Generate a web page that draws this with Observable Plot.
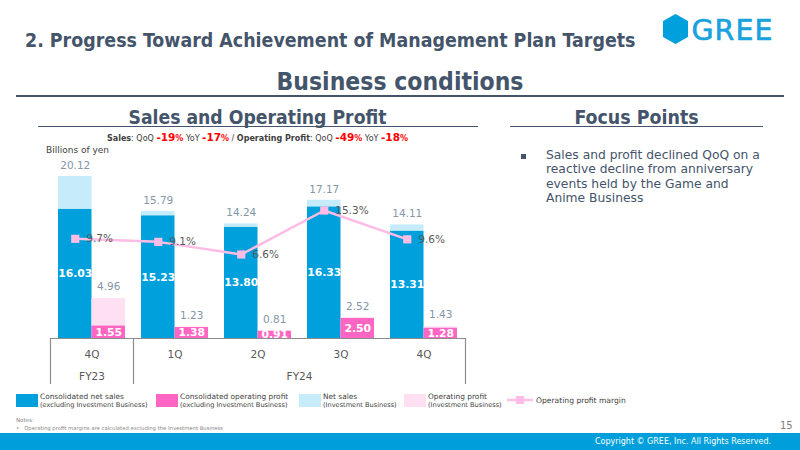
<!DOCTYPE html>
<html><head><meta charset="utf-8">
<script src="https://cdn.jsdelivr.net/npm/d3@7"></script>
<script src="https://cdn.jsdelivr.net/npm/@observablehq/plot@0.6"></script>
<style>
html,body{margin:0;padding:0;}
body{width:800px;height:450px;position:relative;overflow:hidden;background:#fff;font-family:"DejaVu Sans",Verdana,sans-serif;color:#44546A;}
.abs{position:absolute;white-space:nowrap;}
.cond{font-family:"DejaVu Sans Condensed","DejaVu Sans",sans-serif;font-weight:bold;}
.r{color:#FF0000;font-weight:bold;font-size:10.5px;}
.r small{font-size:8px;}
.sw{position:absolute;width:22px;height:13px;}
.lg{position:absolute;color:#404040;line-height:8px;}
.lg .a{font-size:7.4px;}
.lg .b{font-size:6.6px;}
</style></head><body>

<div class="abs cond" style="left:25px;top:29px;font-size:19.4px;">2. Progress Toward Achievement of Management Plan Targets</div>
<svg class="abs" style="left:655px;top:6px" width="140" height="46">
  <polygon points="20.5,9 32,15.5 32,30.5 20.5,37 9,30.5 9,15.5" fill="#00A0DC" stroke="#00A0DC" stroke-width="2" stroke-linejoin="round"/>
  <text x="36.5" y="34" font-family="DejaVu Sans" font-size="28.5" letter-spacing="1" fill="#19A2DD" stroke="#19A2DD" stroke-width="0.6">GREE</text>
</svg>
<div class="abs cond" style="left:0;width:800px;text-align:center;top:66.5px;font-size:24.5px;">Business conditions</div>
<div class="abs" style="left:16px;top:94.5px;width:768px;height:2px;background:#44546A"></div>

<div class="abs cond" style="left:0;width:515px;text-align:center;top:106px;font-size:19.2px;">Sales and Operating Profit</div>
<div class="abs" style="left:38px;top:125.5px;width:440px;height:1.5px;background:#44546A"></div>
<div class="abs" style="left:0;width:515px;text-align:center;top:131px;font-size:8px;color:#404040;"><b>Sales</b>: QoQ <span class="r">-19<small>%</small></span> YoY <span class="r">-17<small>%</small></span> / <b>Operating Profit</b>: QoQ <span class="r">-49<small>%</small></span> YoY <span class="r">-18<small>%</small></span></div>
<div class="abs" style="left:46px;top:145px;font-size:9px;color:#404040;">Billions of yen</div>

<div class="abs cond" style="left:510px;width:253px;text-align:center;top:106px;font-size:19.4px;">Focus Points</div>
<div class="abs" style="left:510px;top:125.5px;width:253px;height:1.5px;background:#44546A"></div>
<div class="abs" style="left:521px;top:154px;width:5px;height:5px;background:#44546A"></div>
<div class="abs" style="left:546px;top:147.5px;font-size:12.3px;line-height:14.6px;white-space:normal;width:245px;">Sales and profit declined QoQ on a<br>reactive decline from anniversary<br>events held by the Game and<br>Anime Business</div>

<div id="chart" class="abs" style="left:0;top:150px;"></div>

<div id="legend"></div>

<div class="abs" style="left:16px;top:417px;font-size:5.5px;color:#8a8a8a;">Notes:</div>
<div class="abs" style="left:16px;top:424.5px;font-size:5.3px;color:#8a8a8a;">&#8226;&nbsp;&nbsp;&nbsp;Operating profit margins are calculated excluding the Investment Business</div>
<div class="abs" style="left:780px;top:419.5px;font-size:10px;color:#7f7f7f;">15</div>
<div class="abs" style="left:0;top:433px;width:800px;height:17px;background:#009FDB"></div>
<div class="abs" style="right:29px;top:437px;font-size:8px;color:#fff;">Copyright © GREE, Inc. All Rights Reserved.</div>

<script>
// ---- data ----
const periods = ["FY23 4Q", "FY24 1Q", "FY24 2Q", "FY24 3Q", "FY24 4Q"];
const quarterLabels = ["4Q", "1Q", "2Q", "3Q", "4Q"];
const fiscalYears = ["FY23", "FY24"];
const salesExInvestment = [16.03, 15.23, 13.80, 16.33, 13.31];
const salesTotal = [20.12, 15.79, 14.24, 17.17, 14.11];
const profitExInvestment = [1.55, 1.38, 0.91, 2.50, 1.28];
const profitTotal = [4.96, 1.23, 0.81, 2.52, 1.43];
const operatingMarginPct = [9.7, 9.1, 6.6, 15.3, 9.6];
const seriesNames = [
  ["Consolidated net sales", "(excluding Investment Business)"],
  ["Consolidated operating profit", "(excluding Investment Business)"],
  ["Net sales", "(Investment Business)"],
  ["Operating profit", "(Investment Business)"],
  ["Operating profit margin", ""]
];

// ---- styles ----
const C = {sales: "#00A0DC", salesInv: "#C6ECFB", profit: "#FF66C4", profitInv: "#FFE0F2", margin: "#FFBCE4", grid: "#8c8c8c"};

const rows = periods.map((p, i) => ({
  period: p, q: quarterLabels[i],
  sEx: salesExInvestment[i], sTot: salesTotal[i],
  pEx: profitExInvestment[i], pTot: profitTotal[i],
  m: operatingMarginPct[i]
}));

// secondary (margin %) axis mapped onto the primary y scale
const marginToY = m => 6.29 + 0.628 * m;

const W = 500, H = 240, ML = 50, MR = 35;
const padIn = 0.193, padOut = padIn / 2;
const step = (W - ML - MR) / periods.length;
const bw = step * (1 - padIn);
const half = bw / 2, off = bw / 4;
const yMin = -5.714, yMax = 23.354;

const chart = Plot.plot({
  width: W, height: H,
  marginLeft: ML, marginRight: MR, marginTop: 0, marginBottom: 6,
  style: {fontFamily: "DejaVu Sans, sans-serif", background: "transparent", overflow: "visible"},
  x: {domain: periods, paddingInner: padIn, paddingOuter: padOut, axis: null},
  y: {domain: [yMin, yMax], axis: null},
  marks: [
    Plot.barY(rows, {x: "period", y1: "sEx", y2: "sTot", fill: C.salesInv, insetRight: half}),
    Plot.barY(rows, {x: "period", y1: 0, y2: "sEx", fill: C.sales, insetRight: half}),
    Plot.barY(rows, {x: "period", y1: "pEx", y2: d => Math.max(d.pEx, d.pTot), fill: C.profitInv, insetLeft: half}),
    Plot.barY(rows, {x: "period", y1: 0, y2: "pEx", fill: C.profit, insetLeft: half}),
    Plot.ruleY([0], {stroke: C.grid, strokeWidth: 1.2}),
    Plot.ruleX([periods[0], periods[1]], {y1: 0, y2: yMin, dx: -step / 2, stroke: C.grid, strokeWidth: 1.2}),
    Plot.ruleX([periods[periods.length - 1]], {y1: 0, y2: yMin, dx: step / 2, stroke: C.grid, strokeWidth: 1.2}),
    Plot.text(rows, {x: "period", y: d => d.sEx / 2, text: d => d.sEx.toFixed(2), dx: -off, fill: "white", fontWeight: "bold", fontSize: 10.8}),
    Plot.text(rows, {x: "period", y: d => d.pEx / 2, text: d => d.pEx.toFixed(2), dx: off, fill: "white", fontWeight: "bold", fontSize: 10.8}),
    Plot.text(rows, {x: "period", y: "sTot", text: d => d.sTot.toFixed(2), dx: -off, dy: -11, fill: "#8496A8", fontSize: 10.5}),
    Plot.text(rows, {x: "period", y: d => Math.max(d.pEx, d.pTot), text: d => d.pTot.toFixed(2), dx: off, dy: -12, fill: "#8496A8", fontSize: 10.5}),
    Plot.line(rows, {x: "period", y: d => marginToY(d.m), dx: -off, stroke: C.margin, strokeWidth: 2.5}),
    Plot.dot(rows, {x: "period", y: d => marginToY(d.m), dx: -off, symbol: "square", r: 4.6, fill: C.margin, stroke: "none"}),
    Plot.text(rows, {x: "period", y: d => marginToY(d.m), text: d => d.m.toFixed(1) + "%", dx: -off + 11, textAnchor: "start", fill: "#595959", fontSize: 10.5}),
    Plot.text(rows, {x: "period", y: -2, text: "q", fill: "#595959", fontSize: 10.5}),
    Plot.text([fiscalYears[0]], {x: () => periods[0], y: -4.72, text: d => d, fill: "#595959", fontSize: 10.5}),
    Plot.text([fiscalYears[1]], {x: () => periods[2], y: -4.72, text: d => d, dx: step / 2, fill: "#595959", fontSize: 10.5})
  ]
});
document.getElementById("chart").appendChild(chart);

// ---- legend ----
const legend = document.getElementById("legend");
const swatchColors = [C.sales, C.profit, C.salesInv, C.profitInv];
const legendX = [16, 156, 299, 404];
swatchColors.forEach((col, i) => {
  const s = document.createElement("div");
  s.className = "sw"; s.style.left = legendX[i] + "px"; s.style.top = "394px"; s.style.background = col;
  legend.appendChild(s);
  const t = document.createElement("div");
  t.className = "lg"; t.style.left = (legendX[i] + 24) + "px"; t.style.top = "392.5px";
  t.innerHTML = `<div class="a">${seriesNames[i][0]}</div><div class="b">${seriesNames[i][1]}</div>`;
  legend.appendChild(t);
});
const ls = document.createElementNS("http://www.w3.org/2000/svg", "svg");
ls.setAttribute("width", 30); ls.setAttribute("height", 12);
ls.style.position = "absolute"; ls.style.left = "507px"; ls.style.top = "394px";
ls.innerHTML = `<line x1="0" y1="6" x2="26" y2="6" stroke="${C.margin}" stroke-width="2.5"/><rect x="9" y="2" width="8" height="8" fill="${C.margin}"/>`;
legend.appendChild(ls);
const lt = document.createElement("div");
lt.className = "lg"; lt.style.left = "536px"; lt.style.top = "396.5px";
lt.innerHTML = `<div class="a" style="font-size:7.6px">${seriesNames[4][0]}</div>`;
legend.appendChild(lt);
</script>
</body></html>
